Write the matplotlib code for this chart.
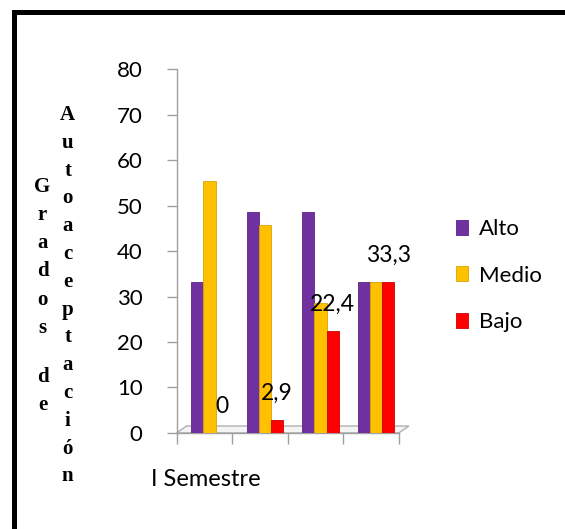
import matplotlib
matplotlib.use("Agg")
import matplotlib.pyplot as plt
from matplotlib.patches import Polygon, Rectangle
import numpy as np

# valores
groups = 4
alto = [33.3, 48.6, 48.6, 33.3]
medio = [55.5, 45.7, 28.6, 33.3]
bajo = [0, 2.9, 22.4, 33.3]
bajo_labels = ["0", "2,9", "22,4", "33,3"]
series_names = ["Alto", "Medio", "Bajo"]
colors = ["#7030A0", "#FFC000", "#FF0000"]
edges = ["#5a2585", "#d9a300", "#cc0000"]
y_ticks = [0, 10, 20, 30, 40, 50, 60, 70, 80]
xlabel = "I Semestre"
ylabel_1 = "Grados de"
ylabel_2 = "Autoaceptación"

W, H = 565, 529
fig = plt.figure(figsize=(W / 100, H / 100), dpi=100)
plt.rcParams['font.family'] = ['Lato', 'DejaVu Sans']

ax = fig.add_axes([176.6 / W, 1 - 432.9 / H, (398.9 - 176.6) / W, (432.9 - 69.2) / H])

x = np.arange(groups) + 0.59
width = 0.22
for k, vals in enumerate([alto, medio, bajo]):
    ax.bar(x + (k - 1) * width, vals, width, color=colors[k], edgecolor=edges[k],
           linewidth=0.6, label=series_names[k], zorder=3)

# etiquetas de la serie Bajo
for i in range(groups):
    ax.text(x[i] + width, bajo[i] + 5.8, bajo_labels[i], ha='center', va='center',
            fontsize=16.5, color='black', zorder=5)

ax.set_xlim(0, groups)
ax.set_ylim(0, 80)
ax.set_yticks(y_ticks)
ax.set_xticks(range(groups + 1))
ax.set_xticklabels([])
ax.tick_params(axis='y', labelsize=16, length=7.5, width=1, color='#a0a0a0', pad=17)
ax.tick_params(axis='x', length=8, width=1, color='#a0a0a0')
for s in ['top', 'right']:
    ax.spines[s].set_visible(False)
for s in ['left', 'bottom']:
    ax.spines[s].set_color('#a0a0a0')
    ax.spines[s].set_linewidth(1)

# piso 3D
floor = Polygon([(0, 0), (0.045, 0.019), (1.045, 0.019), (1, 0)],
                closed=True, transform=ax.transAxes, facecolor='#f4f4f4',
                edgecolor='#b0b0b0', linewidth=1, clip_on=False, zorder=1)
ax.add_patch(floor)

fig.text(151 / W, 1 - 479 / H, xlabel, ha='left', va='center', fontsize=17)

# titulo vertical del eje y, letra por letra
def vertical(word, xc, y0, step, gap):
    y = y0
    for ch in word:
        if ch == ' ':
            y += gap
            continue
        fig.text(xc / W, 1 - y / H, ch, ha='center', va='baseline', fontsize=15,
                 fontweight='bold', family='Liberation Serif')
        y += step

vertical(ylabel_1, 42.5, 191.6, 28.3, 20.6)
vertical(ylabel_2, 67.7, 120, 27.8, 0)

leg = fig.legend(loc='upper left', bbox_to_anchor=(456 / W, 1 - 219 / H), frameon=False,
                 fontsize=16, handlelength=0.55, handleheight=0.65, handletextpad=0.5,
                 labelspacing=1.2, borderpad=0, borderaxespad=0)

# marco negro
fig.patches.append(Rectangle((13.5 / W, -0.2), 1.2, 1 - 12.5 / H + 0.2,
                             transform=fig.transFigure, fill=False,
                             edgecolor='black', linewidth=3.6, figure=fig))

fig.savefig("out.png", dpi=100)
